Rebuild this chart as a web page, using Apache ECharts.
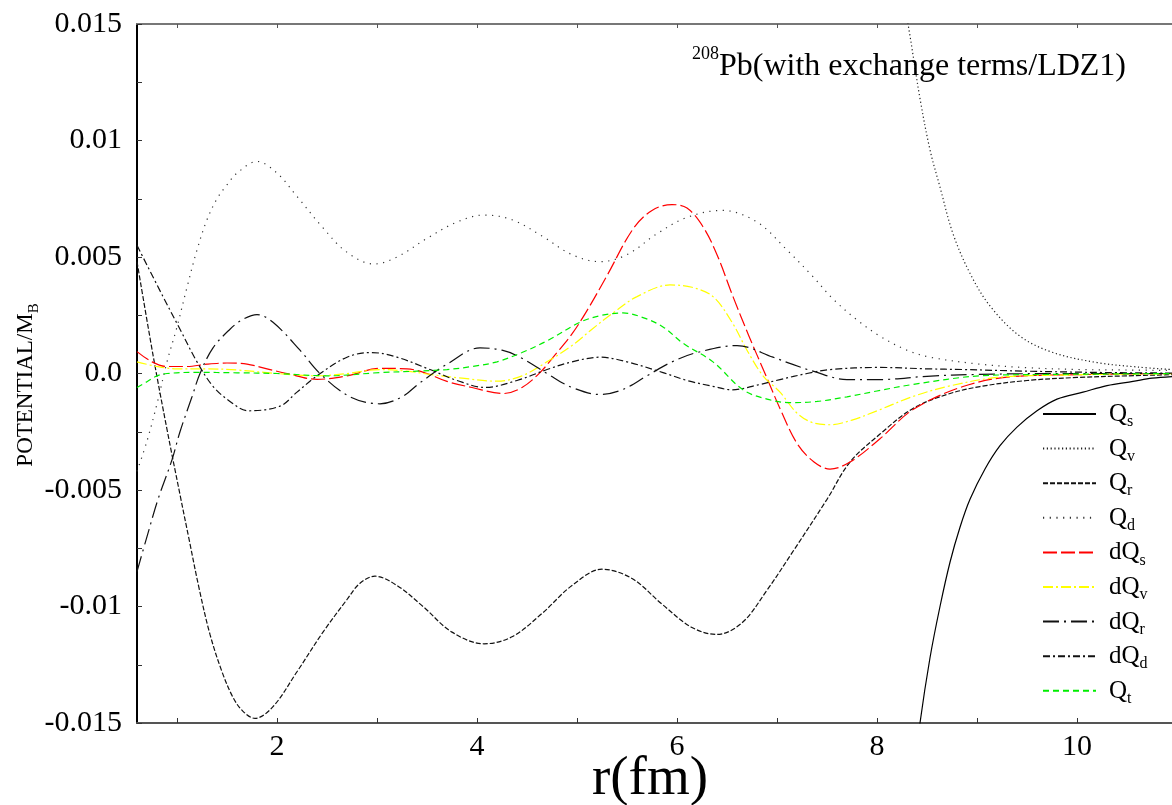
<!DOCTYPE html>
<html>
<head>
<meta charset="utf-8">
<script src="https://cdn.jsdelivr.net/npm/echarts@6/dist/echarts.min.js"></script>
<style>
html,body{margin:0;padding:0;background:#fff;}
#chart{width:1172px;height:805px;}
</style>
</head>
<body>
<div id="chart"></div>
<script>
// ---- data (r in fm, value = potential / M_B) ----
const seriesNames = ['Qs', 'Qv', 'Qr', 'Qd', 'dQs', 'dQv', 'dQr', 'dQd', 'Qt'];

const qsR = [8.1, 8.25, 8.43, 8.53, 8.63, 8.73, 8.83, 8.93, 9.08, 9.23, 9.4, 9.6, 9.8, 10.06, 10.3, 10.56, 10.75, 10.95];
const qsV = [-0.027, -0.021, -0.015, -0.0122, -0.0100, -0.0081, -0.0066, -0.0054, -0.0041, -0.0031, -0.0023, -0.0016, -0.0011, -0.0008, -0.00052, -0.00034, -0.0002, -0.00013];

const qvR = [7.9, 8.1, 8.31, 8.43, 8.53, 8.63, 8.76, 8.93, 9.13, 9.43, 9.76, 10.2, 10.6, 10.95];
const qvV = [0.026, 0.020, 0.015, 0.0118, 0.0096, 0.0080, 0.0060, 0.0043, 0.0029, 0.0016, 0.0009, 0.00047, 0.00028, 0.00017];

const qrR = [0.6, 0.76, 0.9, 1.03, 1.12, 1.22, 1.33, 1.45, 1.56, 1.66, 1.78, 1.96, 2.2, 2.46, 2.7, 2.83, 2.98, 3.2, 3.46, 3.75, 4.07, 4.35, 4.65, 4.95, 5.25, 5.55, 5.85, 6.15, 6.4, 6.65, 6.9, 7.15, 7.5, 7.73, 8.03, 8.36, 8.7, 9.03, 9.5, 10.0, 10.5, 10.95];
const qrV = [0.0048, 0.0008, -0.0024, -0.0052, -0.0071, -0.0092, -0.0112, -0.0128, -0.0139, -0.0145, -0.0148, -0.0143, -0.0128, -0.0111, -0.0097, -0.0090, -0.0087, -0.0091, -0.0100, -0.0111, -0.0116, -0.0113, -0.0103, -0.0091, -0.0084, -0.0088, -0.0099, -0.0109, -0.0112, -0.0107, -0.0093, -0.0077, -0.0054, -0.0038, -0.0026, -0.0015, -0.0009, -0.00056, -0.0003, -0.00017, -0.0001, -0.00005];

const qdR = [0.6, 0.7, 0.8, 0.9, 1.0, 1.1, 1.2, 1.3, 1.4, 1.5, 1.6, 1.8, 2.0, 2.2, 2.45, 2.7, 2.97, 3.2, 3.5, 3.8, 4.07, 4.35, 4.65, 4.95, 5.23, 5.5, 5.8, 6.1, 6.45, 6.8, 7.1, 7.35, 7.56, 7.8, 8.03, 8.3, 8.53, 9.03, 9.5, 10.03, 10.5, 10.95];
const qdV = [-0.0042, -0.0029, -0.0013, 0.0005, 0.0020, 0.0037, 0.0053, 0.0066, 0.0075, 0.0081, 0.0086, 0.0091, 0.0086, 0.0076, 0.0063, 0.0052, 0.0047, 0.0050, 0.0058, 0.0065, 0.0068, 0.0066, 0.0059, 0.0051, 0.0048, 0.0051, 0.0060, 0.0067, 0.0070, 0.0065, 0.0053, 0.0042, 0.0032, 0.0023, 0.0016, 0.0010, 0.0007, 0.0004, 0.00025, 0.00017, 0.00015, 0.00013];

const dqsR = [0.6, 0.75, 0.9, 1.1, 1.3, 1.5, 1.7, 1.9, 2.1, 2.4, 2.7, 3.03, 3.3, 3.5, 3.7, 3.95, 4.26, 4.45, 4.63, 4.8, 4.95, 5.1, 5.3, 5.56, 5.75, 5.95, 6.1, 6.26, 6.4, 6.56, 6.72, 6.88, 7.04, 7.2, 7.37, 7.53, 7.73, 8.03, 8.36, 8.86, 9.36, 10.0, 10.5, 10.95];
const dqsV = [0.00094, 0.0005, 0.0003, 0.0003, 0.0004, 0.00045, 0.0004, 0.0002, 0.0, -0.00025, -0.0001, 0.00022, 0.0002, 0.0, -0.00034, -0.0006, -0.00086, -0.0006, 0.00004, 0.0009, 0.0017, 0.0027, 0.0042, 0.0062, 0.0070, 0.00725, 0.0071, 0.0063, 0.0051, 0.0033, 0.0016, 0.0, -0.0016, -0.0030, -0.0038, -0.0041, -0.0038, -0.0028, -0.00155, -0.00056, -0.00013, -0.00005, -0.00002, 0.0];

const dqvR = [0.6, 0.8, 1.0, 1.3, 1.6, 2.0, 2.4, 2.7, 3.03, 3.3, 3.53, 3.85, 4.2, 4.45, 4.7, 4.95, 5.15, 5.36, 5.6, 5.93, 6.15, 6.36, 6.55, 6.7, 6.86, 7.03, 7.2, 7.35, 7.53, 7.75, 8.03, 8.35, 8.7, 9.2, 9.8, 10.4, 10.95];
const dqvV = [0.0005, 0.0003, 0.0002, 0.0002, 0.00015, 0.0, -0.0001, 0.0, 0.00017, 0.0001, -0.00004, -0.0002, -0.00033, -0.0001, 0.0005, 0.0012, 0.0019, 0.0026, 0.0033, 0.0038, 0.0037, 0.0033, 0.0022, 0.0010, -0.0001, -0.0008, -0.0017, -0.0021, -0.0022, -0.0020, -0.00155, -0.0010, -0.00056, -0.00017, -0.00007, -0.00003, -0.00001];

const dqrR = [0.6, 0.7, 0.81, 0.95, 1.03, 1.15, 1.23, 1.36, 1.53, 1.65, 1.8, 1.96, 2.23, 2.43, 2.73, 3.03, 3.25, 3.43, 3.7, 4.03, 4.25, 4.43, 4.7, 4.95, 5.23, 5.45, 5.7, 5.95, 6.2, 6.6, 6.96, 7.15, 7.36, 7.7, 8.03, 8.5, 9.0, 10.0, 10.95];
const dqrV = [-0.0085, -0.0070, -0.0054, -0.0037, -0.0025, -0.0010, 0.0, 0.0011, 0.0019, 0.0023, 0.00253, 0.0022, 0.0010, 0.0, -0.0010, -0.0013, -0.0010, -0.0004, 0.0004, 0.0011, 0.0010, 0.0007, 0.0, -0.0006, -0.0009, -0.0007, -0.0001, 0.0005, 0.0009, 0.0012, 0.0007, 0.0004, 0.0001, -0.00026, -0.00026, -0.00012, -0.00004, 0.0, 0.0];

const dqdR = [0.6, 0.86, 1.03, 1.2, 1.36, 1.53, 1.71, 2.03, 2.2, 2.4, 2.7, 2.95, 3.2, 3.53, 3.8, 4.08, 4.4, 4.7, 4.95, 5.23, 5.5, 5.86, 6.1, 6.36, 6.55, 6.8, 7.03, 7.3, 7.53, 8.03, 8.5, 8.86, 9.5, 10.3, 10.95];
const dqdV = [0.0055, 0.0033, 0.0019, 0.0005, -0.00055, -0.0012, -0.0016, -0.0014, -0.0008, -0.0001, 0.0007, 0.0009, 0.0007, 0.00017, -0.0003, -0.0006, -0.0003, 0.00017, 0.0005, 0.0007, 0.0005, 0.00004, -0.0003, -0.00055, -0.0007, -0.0005, -0.00026, 0.0, 0.00017, 0.00026, 0.0002, 0.00017, 0.0001, 0.00004, 0.00002];

const qtR = [0.6, 0.7, 0.8, 0.9, 1.2, 1.6, 2.0, 2.5, 3.03, 3.4, 3.7, 3.95, 4.2, 4.45, 4.7, 5.03, 5.25, 5.46, 5.66, 5.86, 6.06, 6.36, 6.66, 6.9, 7.13, 7.4, 7.7, 8.0, 8.36, 9.03, 9.7, 10.4, 10.95];
const qtV = [-0.0006, -0.00035, -0.0001, 0.0, 0.00005, 0.00003, 0.0, -0.0001, 0.00004, 0.0001, 0.00017, 0.0003, 0.0005, 0.0009, 0.0014, 0.0022, 0.0025, 0.0026, 0.0024, 0.0020, 0.0013, 0.0005, -0.0007, -0.0011, -0.00125, -0.0012, -0.0010, -0.00075, -0.00047, -0.0001, -0.00004, -0.00002, 0.0];

const xTickValues = [1, 2, 3, 4, 5, 6, 7, 8, 9, 10];
const xLabelValues = [2, 4, 6, 8, 10];
const yTickValues = [-0.015, -0.0125, -0.01, -0.0075, -0.005, -0.0025, 0, 0.0025, 0.005, 0.0075, 0.01, 0.0125, 0.015];
const yLabelValues = [-0.015, -0.01, -0.005, 0, 0.005, 0.01, 0.015];
const yLabelTexts = ['-0.015', '-0.01', '-0.005', '0.0', '0.005', '0.01', '0.015'];

// ---- styles ----
const FONT = '"Liberation Serif", "Times New Roman", serif';
const styles = {
  Qs:  { color: '#000000', type: 'solid' },
  Qv:  { color: '#222222', type: [1.2, 2.6] },
  Qr:  { color: '#111111', type: [5, 2] },
  Qd:  { color: '#333333', type: [1.2, 5.5] },
  dQs: { color: '#ff0000', type: [14, 4] },
  dQv: { color: '#ffff00', type: [10, 3, 2, 3] },
  dQr: { color: '#111111', type: [16, 5, 2, 5] },
  dQd: { color: '#111111', type: [7, 3, 2, 3] },
  Qt:  { color: '#00ee00', type: [6, 4] }
};
const rs = { Qs: qsR, Qv: qvR, Qr: qrR, Qd: qdR, dQs: dqsR, dQv: dqvR, dQr: dqrR, dQd: dqdR, Qt: qtR };
const vs = { Qs: qsV, Qv: qvV, Qr: qrV, Qd: qdV, dQs: dqsV, dQv: dqvV, dQr: dqrV, dQd: dqdV, Qt: qtV };

const series = seriesNames.map(n => ({
  name: n,
  type: 'line',
  xAxisIndex: 0,
  yAxisIndex: 0,
  showSymbol: false,
  symbol: 'none',
  smooth: 0.35,
  clip: true,
  color: styles[n].color,
  lineStyle: { color: styles[n].color, width: 1.2, type: styles[n].type },
  data: rs[n].map((r, i) => [r, vs[n][i]])
}));

const legendRich = {
  m: { fontFamily: FONT, fontSize: 25, lineHeight: 24, verticalAlign: 'top', color: '#000', padding: [0, 0, 0, 8] },
  s: { fontFamily: FONT, fontSize: 16, lineHeight: 14, verticalAlign: 'top', color: '#000', padding: [12, 0, 0, 0] }
};

const chart = echarts.init(document.getElementById('chart'), null, { renderer: 'canvas' });
chart.setOption({
  animation: false,
  backgroundColor: '#ffffff',
  grid: { left: 137, right: 0, top: 24, bottom: 82, containLabel: false },
  xAxis: [
    {
      type: 'value', min: 0.6, max: 10.95, position: 'bottom',
      axisLine: { show: true, onZero: false, lineStyle: { color: '#555', width: 2 } },
      axisTick: { show: true, inside: true, length: 5, customValues: xTickValues, lineStyle: { color: '#333', width: 1 } },
      axisLabel: { show: true, customValues: xLabelValues, margin: 9, fontFamily: FONT, fontSize: 30, color: '#000' },
      splitLine: { show: false }
    },
    {
      type: 'value', min: 0.6, max: 10.95, position: 'top',
      axisLine: { show: true, onZero: false, lineStyle: { color: '#777', width: 2 } },
      axisTick: { show: true, inside: true, length: 4, customValues: xTickValues, lineStyle: { color: '#555', width: 1 } },
      axisLabel: { show: false },
      splitLine: { show: false }
    }
  ],
  yAxis: [
    {
      type: 'value', min: -0.015, max: 0.015, position: 'left',
      axisLine: { show: true, onZero: false, lineStyle: { color: '#000', width: 2 } },
      axisTick: { show: true, inside: true, length: 5, customValues: yTickValues, lineStyle: { color: '#333', width: 1 } },
      axisLabel: {
        show: true, customValues: yLabelValues, margin: 15, fontFamily: FONT, fontSize: 30, color: '#000',
        formatter: function (v) {
          let best = 0, bd = Infinity;
          yLabelValues.forEach((y, i) => { const d = Math.abs(y - v); if (d < bd) { bd = d; best = i; } });
          return yLabelTexts[best];
        }
      },
      splitLine: { show: false }
    }
  ],
  legend: {
    orient: 'vertical',
    left: 1037,
    top: 397,
    itemWidth: 53,
    itemHeight: 14,
    itemGap: 6.6,
    data: seriesNames,
    itemStyle: { opacity: 0, borderWidth: 0 },
    formatter: function (name) {
      const base = name.slice(0, -1);
      const sub = name.slice(-1);
      return '{m|' + base + '}{s|' + sub + '}';
    },
    textStyle: { fontFamily: FONT, fontSize: 25, color: '#000', rich: legendRich },
    selectedMode: false
  },
  graphic: [
    {
      type: 'text', left: 692, top: 45, z: 100,
      style: {
        text: '{s|208}{m|Pb(with exchange terms/LDZ1)}',
        rich: {
          s: { fontFamily: FONT, fontSize: 18, lineHeight: 18, verticalAlign: 'top', fill: '#000' },
          m: { fontFamily: FONT, fontSize: 32, lineHeight: 32, verticalAlign: 'top', padding: [6, 0, 0, 0], fill: '#000' }
        },
        fill: '#000'
      }
    },
    {
      type: 'text', x: 650, y: 780, z: 100,
      style: { text: 'r(fm)', fontFamily: FONT, fontSize: 55, fill: '#000', align: 'center', verticalAlign: 'middle' }
    },
    {
      type: 'text', x: 26, y: 385, rotation: Math.PI / 2, z: 100,
      style: {
        text: '{m|POTENTIAL/M}{s|B}',
        align: 'center', verticalAlign: 'middle',
        rich: {
          m: { fontFamily: FONT, fontSize: 23, lineHeight: 23, verticalAlign: 'top', fill: '#000' },
          s: { fontFamily: FONT, fontSize: 15, lineHeight: 14, verticalAlign: 'top', padding: [12, 0, 0, 0], fill: '#000' }
        }
      }
    }
  ],
  series: series
});
</script>
</body>
</html>
